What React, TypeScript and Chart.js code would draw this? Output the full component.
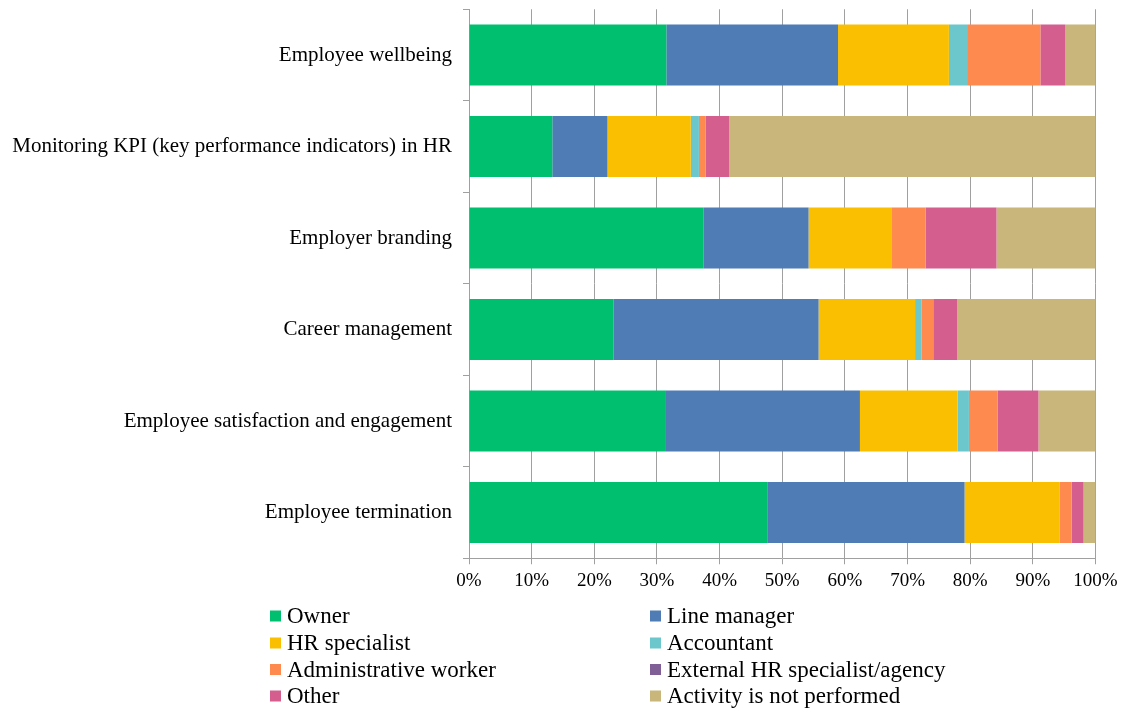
import React, { useEffect, useRef } from "react";
import { Chart, registerables } from "chart.js";

Chart.register(...registerables);

const categories = [
  "Employee wellbeing",
  "Monitoring KPI (key performance indicators) in HR",
  "Employer branding",
  "Career management",
  "Employee satisfaction and engagement",
  "Employee termination",
];

const seriesNames = [
  "Owner",
  "Line manager",
  "HR specialist",
  "Accountant",
  "Administrative worker",
  "External HR specialist/agency",
  "Other",
  "Activity is not performed",
];

const owner = [31.5, 13.3, 37.4, 23.1, 31.3, 47.7];
const lineManager = [27.4, 8.8, 16.8, 32.7, 31.1, 31.4];
const hrSpecialist = [17.7, 13.3, 13.2, 15.4, 15.6, 15.2];
const accountant = [2.9, 1.3, 0, 1.0, 1.8, 0];
const adminWorker = [11.7, 1.1, 5.5, 1.9, 4.6, 1.9];
const externalHR = [0, 0, 0, 0, 0, 0];
const other = [4.0, 3.7, 11.3, 3.8, 6.5, 1.9];
const notPerformed = [4.8, 58.5, 15.8, 22.1, 9.1, 1.9];

const xTicks = [0, 10, 20, 30, 40, 50, 60, 70, 80, 90, 100];

const colors = [
  "#00BF6F",
  "#4F7CB4",
  "#F9BF00",
  "#6CC7CC",
  "#FF8A50",
  "#7F5F95",
  "#D45F8F",
  "#C8B67B",
];

const seriesValues = [owner, lineManager, hrSpecialist, accountant, adminWorker, externalHR, other, notPerformed];

const W = 1123;
const H = 708;
const FONT = "'Liberation Serif', 'Times New Roman', serif";

const legendPlugin = {
  id: "customLegend",
  afterDraw(chart: any) {
    const ctx = chart.ctx;
    ctx.save();
    const cols = [
      { sq: 270, tx: 287 },
      { sq: 650, tx: 667 },
    ];
    const rows = [616, 643, 669.5, 696];
    ctx.font = `23px ${FONT}`;
    ctx.textBaseline = "middle";
    ctx.textAlign = "left";
    seriesNames.forEach((name, i) => {
      const c = cols[i % 2];
      const y = rows[Math.floor(i / 2)];
      ctx.fillStyle = colors[i];
      ctx.fillRect(c.sq, y - 5.5, 11, 11);
      ctx.fillStyle = "#000";
      ctx.fillText(name, c.tx, y + 1);
    });
    ctx.restore();
  },
};

export default function App() {
  const ref = useRef<HTMLCanvasElement | null>(null);
  useEffect(() => {
    if (!ref.current) return;
    const chart = new Chart(ref.current, {
      type: "bar",
      data: {
        labels: categories,
        datasets: seriesNames.map((name, i) => ({
          label: name,
          data: seriesValues[i],
          backgroundColor: colors[i],
          borderWidth: 0,
          categoryPercentage: 1,
          barPercentage: 0.667,
        })),
      },
      options: {
        indexAxis: "y",
        responsive: false,
        animation: false,
        layout: { padding: { top: 9.25, right: 27.5, bottom: 110, left: 0 } },
        plugins: {
          legend: { display: false },
          tooltip: { enabled: false },
        },
        scales: {
          x: {
            stacked: true,
            min: 0,
            max: 100,
            afterFit(scale: any) {
              scale.height = 39.75;
              scale.paddingLeft = 0;
              scale.paddingRight = 0;
            },
            afterBuildTicks(scale: any) {
              scale.ticks = xTicks.map((v) => ({ value: v }));
            },
            ticks: {
              callback: (v: any) => `${v}%`,
              color: "#000",
              font: { family: FONT, size: 19 },
              padding: 5,
              maxRotation: 0,
            },
            grid: {
              color: "#A0A0A0",
              lineWidth: 1,
              tickLength: 6,
              drawOnChartArea: true,
            },
            border: { color: "#A0A0A0", width: 1 },
          },
          y: {
            stacked: true,
            afterFit(scale: any) {
              scale.width = 469;
              scale.paddingTop = 0;
              scale.paddingBottom = 0;
            },
            ticks: {
              color: "#000",
              font: { family: FONT, size: 21 },
              padding: 11,
            },
            grid: {
              offset: true,
              drawOnChartArea: false,
              tickLength: 6,
              color: "#A0A0A0",
            },
            border: { color: "#A0A0A0", width: 1 },
          },
        },
      },
      plugins: [legendPlugin],
    } as any);
    return () => chart.destroy();
  }, []);
  return (
    <div style={{ position: "absolute", left: 0, top: 0, width: W, height: H, background: "#fff" }}>
      <canvas ref={ref} width={W} height={H} style={{ width: W, height: H, display: "block" }} />
    </div>
  );
}
